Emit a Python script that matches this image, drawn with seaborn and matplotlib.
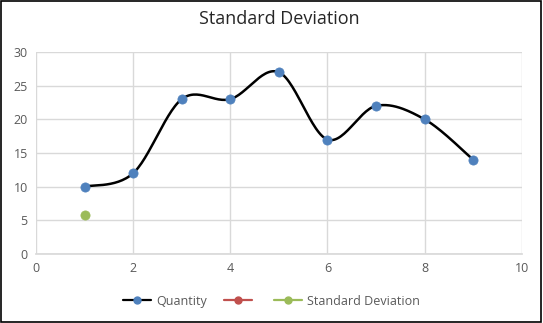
import numpy as np
import pandas as pd
import seaborn as sns
import matplotlib
matplotlib.use("Agg")
import matplotlib.pyplot as plt
from matplotlib.lines import Line2D
from matplotlib.patches import Rectangle

x_vals = [1, 2, 3, 4, 5, 6, 7, 8, 9]
quantity = [10, 12, 23, 23, 27, 17, 22, 20, 14]
sd_x = [1]
sd_y = [5.74]
x_ticks = [0, 2, 4, 6, 8, 10]
y_ticks = [0, 5, 10, 15, 20, 25, 30]

def smooth(xs, ys, n=30):
    # Bezier smoothing similar to spreadsheet "smoothed line"
    P = np.column_stack([xs, ys]).astype(float)
    out = []
    m = len(P)
    for i in range(m - 1):
        p0 = P[max(i - 1, 0)]
        p1 = P[i]
        p2 = P[i + 1]
        p3 = P[min(i + 2, m - 1)]
        c1 = p1 + (p2 - p0) / 6.0
        c2 = p2 - (p3 - p1) / 6.0
        t = np.linspace(0, 1, n)[:, None]
        seg = ((1 - t) ** 3) * p1 + 3 * ((1 - t) ** 2) * t * c1 + 3 * (1 - t) * t ** 2 * c2 + t ** 3 * p2
        out.append(seg if i == 0 else seg[1:])
    return np.vstack(out)

sns.set_theme(style="white")
plt.rcParams['font.family'] = ['Open Sans', 'DejaVu Sans']

fig = plt.figure(figsize=(5.43, 3.23), dpi=100)
ax = fig.add_axes([0.0663, 0.2136, 0.8947, 0.6254])

curve = smooth(x_vals, quantity)
cdf = pd.DataFrame({"x": curve[:, 0], "y": curve[:, 1], "i": np.arange(len(curve))})
sns.lineplot(data=cdf, x="x", y="y", ax=ax, color="black", linewidth=1.8, sort=False, estimator=None)
pdf = pd.DataFrame({"x": x_vals, "y": quantity})
sns.scatterplot(data=pdf, x="x", y="y", ax=ax, color="#4F81BD", s=44, edgecolor="#4F81BD", linewidth=0.5, zorder=5)
sdf = pd.DataFrame({"x": sd_x, "y": sd_y})
sns.scatterplot(data=sdf, x="x", y="y", ax=ax, color="#9BBB59", s=44, edgecolor="#9BBB59", linewidth=0.5, zorder=5)

ax.set_xlim(0, 10)
ax.set_ylim(0, 30)
ax.set_xticks(x_ticks)
ax.set_yticks(y_ticks)
ax.grid(True, color="#D9D9D9", linewidth=1)
ax.set_axisbelow(True)
for s in ["top", "right", "left"]:
    ax.spines[s].set_visible(False)
ax.spines["bottom"].set_color("#D9D9D9")
ax.tick_params(axis="both", colors="#595959", labelsize=9, length=0, pad=6)
ax.set_xlabel("")
ax.set_ylabel("")
ax.set_title("Standard Deviation", fontsize=13, color="#262626", pad=20)

handles = [
    Line2D([0], [0], color="black", lw=1.6, marker="o", markersize=5, markerfacecolor="#4F81BD", markeredgecolor="#4F81BD"),
    Line2D([0], [0], color="#C0504D", lw=1.6, marker="o", markersize=5, markerfacecolor="#C0504D", markeredgecolor="#C0504D"),
    Line2D([0], [0], color="#9BBB59", lw=1.6, marker="o", markersize=5, markerfacecolor="#9BBB59", markeredgecolor="#9BBB59"),
]
fig.legend(handles, ["Quantity", "", "Standard Deviation"], loc="center", bbox_to_anchor=(0.5, 0.068),
           ncol=3, frameon=False, fontsize=9, labelcolor="#595959", handlelength=2.2, handletextpad=0.4,
           columnspacing=1.4)

fig.patches.append(Rectangle((0.001, 0.002), 0.996, 0.995, transform=fig.transFigure, fill=False,
                             edgecolor="black", linewidth=1.2))
fig.savefig("out.png", dpi=100)
